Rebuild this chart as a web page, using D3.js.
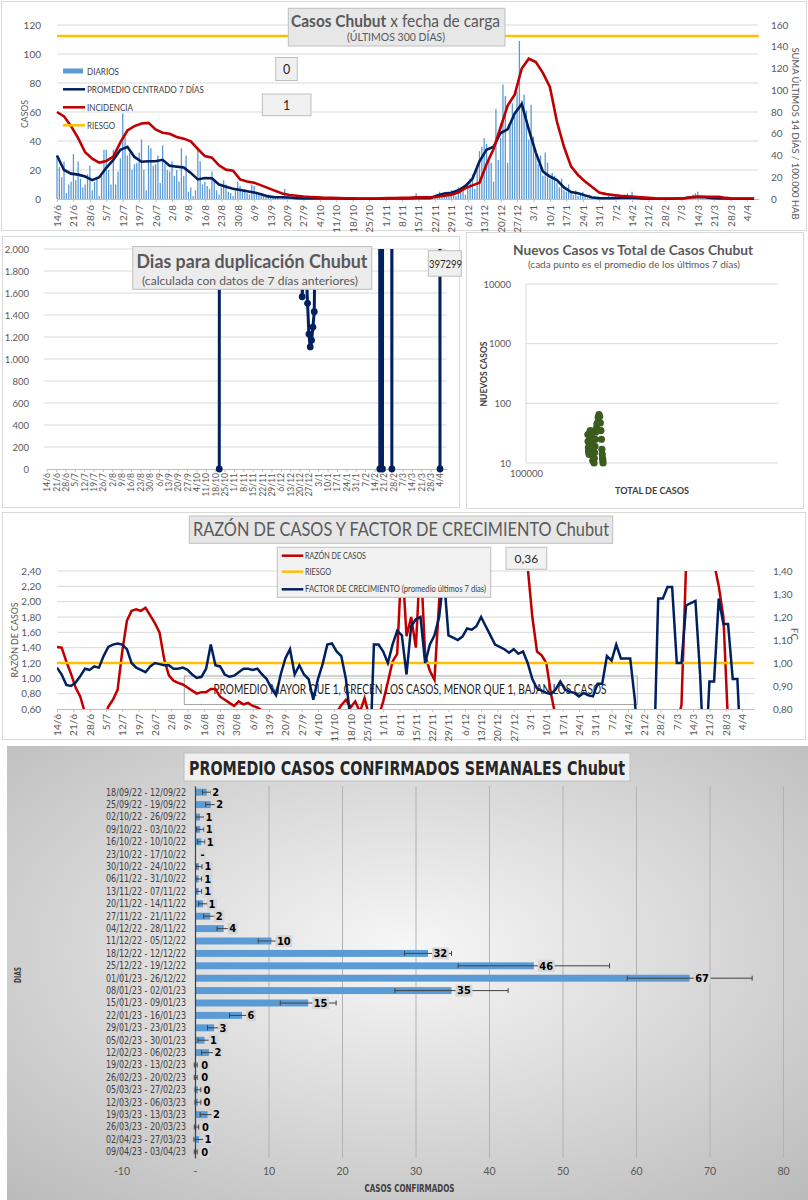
<!DOCTYPE html>
<html>
<head>
<meta charset="utf-8">
<script src="https://cdn.jsdelivr.net/npm/d3@7/dist/d3.min.js"></script>
<style>
  body { margin: 0; background: #fff; }
  svg text { font-family: Lato, "Open Sans", sans-serif; }
</style>
</head>
<body>
<svg id="chart" width="808" height="1200"></svg>
<script>
// ===== data =====
// one label per week, first day 14/6/22, last day 9/4/23 (300 days)
var weekLabels = ["14/6","21/6","28/6","5/7","12/7","19/7","26/7","2/8","9/8","16/8","23/8","30/8",
  "6/9","13/9","20/9","27/9","4/10","11/10","18/10","25/10","1/11","8/11","15/11","22/11","29/11",
  "6/12","13/12","20/12","27/12","3/1","10/1","17/1","24/1","31/1","7/2","14/2","21/2","28/2",
  "7/3","14/3","21/3","28/3","4/4"];

// daily cases (one per day)
var diarios = [
  30,22,15,26,4,10,12, 31,13,26,14,8,10,17, 23,6,12,14,2,16,34, 34,20,10,34,10,19,28,
  59,43,30,32,20,24,25, 32,41,20,6,37,35,23, 24,30,11,37,24,20,19, 26,16,20,12,35,16,30,
  5,8,2,6,34,26,10, 12,9,7,19,12,6,3, 8,13,10,5,4,2,6, 12,9,5,7,4,3,10,
  9,5,3,4,2,2,3, 1,2,1,1,0,1,7, 1,1,0,1,0,0,1, 1,0,0,1,0,0,1,
  0,1,0,0,0,1,0, 0,0,1,0,0,0,0, 0,0,0,1,0,0,0, 0,0,0,0,1,0,0,
  0,1,0,0,0,0,1, 0,0,1,0,0,1,4, 0,1,2,0,1,0,1, 1,3,5,2,4,5,3,
  6,4,2,8,5,8,3, 11,14,17,7,22,33,36, 42,38,29,25,12,62,27, 42,79,71,25,50,66,57,
  74,109,68,72,61,41,65, 43,32,24,30,16,32,25, 14,18,16,11,8,14,6, 5,10,5,3,6,2,3,
  5,2,1,3,1,2,1, 0,1,1,0,2,1,0, 3,1,0,1,0,4,1, 5,0,1,0,0,1,0,
  0,0,0,1,0,0,0, 1,0,0,0,0,1,0, 0,0,1,0,2,3,4, 5,1,1,0,2,0,1,
  0,1,0,0,1,0,0, 0,0,0,1,0,0,0, 0,0,1,0,0,0];

// centred 7-day average, read every 3 days
var promedio7 = [
  30,20,17.5,16.8,15.5,13,15,21.5,27,34,
  36,29,25.7,26,26,27,23,22.3,21.8,18,
  13.5,14.5,14.3,10,8.5,7,6.2,5.3,4.5,3.2,
  1.8,1.2,1.2,1,0.5,0.4,0.4,0.3,0.3,0.3,
  0.3,0.2,0.2,0.2,0.2,0.2,0.2,0.3,0.3,0.3,
  0.4,0.6,0.6,0.5,2.5,3.8,4.3,6,9,14,
  26,34,36,45.5,48,59,65.5,48,32,19,
  15.5,13,8,4.8,4,2.5,1,0.6,0.5,0.6,
  0.8,0.9,0.7,0.4,0.2,0.2,0.2,0.2,0.3,0.5,
  1.2,1.5,1.3,0.6,0.3,0.3,0.2,0.2,0.2,0.2];

// 14-day incidence per 100.000, read every 3 days
var incidencia = [
  80,76,67,56,43,37,33.5,35,39,52,
  63,67,69.5,70,64,61,60,57,55.5,53,
  46,39.5,38,31,27,26,18,16,15,12.5,
  10,7.5,5,3.7,3,2.2,1.8,1.5,1.2,1,
  0.8,0.7,0.6,0.5,0.5,0.5,0.6,0.8,0.8,1,
  1.2,1.5,1.5,1.5,2,3,4,6,10,12.5,
  15,32,46,66,86,96,120,129,126,116,
  103,71,48,30,22,16,11,6,4.5,3.7,
  3,2.5,2,1.5,1,0.6,0.5,0.5,0.5,0.5,
  1.5,2,2,2,2,1,0.5,0.5,0.5,0.5];
var riesgoIncidencia = 150;

// doubling days (day index, value)
var dupDays   = [129, 130, 190, 191, 192, 193, 194, 195, 196, 197, 198, 199, 200, 201,
                 248, 249, 250, 251, 252, 257, 258, 259, 293, 294, 295];
var dupValues = [0, 40000, 25000, 1566, 1850, 2300, 1800, 1506, 1227, 1110, 1170, 1290, 1430, 2600,
                 30000, 0, 20000, 0, 30000, 30000, 0, 30000, 30000, 0, 397299];
var dupLabel = "397299";

// new vs total cases (7 day means)
var scatterTotal = [176000,176400,176800,177200,177600,178000,178400,178900,179400,179900,
  180400,180900,181400,181900,182300,182700,183100,183400,183700,184000,
  186200,186700,187200,187800,188500,189300,190200,191200,192300,193500,
  194800,196000,197200,198300,199200,200000,200700,201300,201800,202200];
var scatterNuevos = [30,23,18,16,15,14,20,27,33,35,29,26,26,27,23,22,21,17,14,11,
  10,12,15,19,25,33,38,45,47,58,65,60,47,35,25,17,14,12,11,10];

// case ratio (left axis), read every 2 days
var razonCasos = [
  1.41,1.40,1.22,1.06,0.88,0.76,0.55,0.40,0.35,0.35,
  0.45,0.63,0.72,0.85,1.35,1.75,1.88,1.90,1.88,1.92,
  1.82,1.72,1.60,1.25,1.04,0.97,0.94,0.92,0.88,0.84,
  0.80,0.82,0.82,0.86,0.86,0.76,0.72,0.68,0.64,0.70,
  0.66,0.68,0.64,0.62,0.58,0.50,0.45,0.40,0.40,0.40,
  0.40,0.40,0.40,0.40,0.40,0.40,0.40,0.40,0.45,0.50,
  0.55,0.65,0.72,0.62,0.70,0.56,0.74,0.50,0.45,0.50,
  0.70,0.95,1.22,1.32,2.60,1.55,1.80,1.40,2.60,1.30,
  1.10,0.98,2.00,3.00,3.00,3.00,3.00,3.00,3.00,3.00,
  3.00,3.00,3.00,3.00,3.00,3.00,3.00,3.00,3.00,3.00,
  3.00,2.45,1.80,1.35,1.30,1.20,0.80,0.50,0.40,0.40,
  0.40,0.40,0.40,0.40,0.40,0.40,0.40,0.40,0.40,0.40,
  0.40,0.40,0.40,0.40,0.40,0.40,0.40,0.40,0.40,0.40,
  0.40,0.40,0.40,0.40,0.65,2.50,3.00,3.00,3.00,3.00,
  3.00,2.50,2.20,1.80,0.40,0.40,0.40,0.40,0.40,0.40];

// growth factor (right axis), read every 2 days
var factorCrec = [
  0.98,0.95,0.905,0.90,0.915,0.943,0.975,0.97,0.985,0.98,
  1.03,1.07,1.08,1.085,1.08,1.06,1.00,0.98,0.97,0.96,
  0.985,1.00,0.995,0.99,0.99,0.975,0.975,0.98,0.97,0.95,
  0.935,0.94,0.975,1.08,0.99,0.985,0.95,0.94,0.945,0.96,
  0.975,0.975,0.97,0.975,0.95,0.93,0.89,0.86,0.95,1.02,
  1.06,0.95,0.99,0.95,0.93,0.84,0.93,0.995,1.08,1.085,
  1.05,1.03,0.93,0.75,0.60,0.50,0.50,0.50,1.08,1.08,
  1.05,1.00,1.08,1.14,1.12,0.95,1.16,1.19,1.20,1.00,
  1.08,1.12,1.20,1.38,1.12,1.11,1.10,1.115,1.15,1.145,
  1.16,1.20,1.16,1.12,1.08,1.07,1.06,1.045,1.06,1.04,
  1.05,1.00,0.93,0.89,0.88,0.87,0.865,0.885,0.92,0.885,
  0.875,0.87,0.855,0.87,0.86,0.855,0.91,0.91,1.03,1.01,
  1.08,1.02,1.02,1.02,0.84,0.50,0.50,0.50,0.50,1.28,
  1.28,1.33,1.33,1.00,1.00,1.25,1.26,1.27,0.95,0.50,
  0.92,0.92,1.28,1.17,1.17,0.93,0.93,0.50,0.50,0.50];
var riesgoFC = 1.0;

// weekly averages
var semanas = ["18/09/22 - 12/09/22","25/09/22 - 19/09/22","02/10/22 - 26/09/22","09/10/22 - 03/10/22",
  "16/10/22 - 10/10/22","23/10/22 - 17/10/22","30/10/22 - 24/10/22","06/11/22 - 31/10/22",
  "13/11/22 - 07/11/22","20/11/22 - 14/11/22","27/11/22 - 21/11/22","04/12/22 - 28/11/22",
  "11/12/22 - 05/12/22","18/12/22 - 12/12/22","25/12/22 - 19/12/22","01/01/23 - 26/12/22",
  "08/01/23 - 02/01/23","15/01/23 - 09/01/23","22/01/23 - 16/01/23","29/01/23 - 23/01/23",
  "05/02/23 - 30/01/23","12/02/23 - 06/02/23","19/02/23 - 13/02/23","26/02/23 - 20/02/23",
  "05/03/23 - 27/02/23","12/03/23 - 06/03/23","19/03/23 - 13/03/23","26/03/23 - 20/03/23",
  "02/04/23 - 27/03/23","09/04/23 - 03/04/23"];
var promedioSemanal = [1.6,2.15,0.68,0.72,0.86,0,0.55,0.5,0.5,1.1,2.08,3.9,10.4,31.7,46.1,67.3,
  34.9,15.4,6.4,2.6,1.3,1.9,0.1,0.1,0.4,0.4,1.7,0.2,0.55,0.1];
var desvioSemanal = [0.6,0.7,0.6,0.5,0.5,0,0.4,0.4,0.4,0.6,0.9,0.9,1.8,3.2,10.3,8.5,
  7.7,3.8,1.7,0.9,0.9,1.0,0.2,0.2,0.4,0.4,1.0,0.3,0.7,0.2];

// ===== drawing =====
var svg = d3.select("#chart");
var NARROW = "'Liberation Sans Narrow', 'DejaVu Sans Condensed', Lato, sans-serif";
var NAVY = "#002060", RED = "#c00000", ORANGE = "#ffc000", BLUE = "#5b9bd5";
var es = d3.formatLocale({decimal: ",", thousands: ".", grouping: [3], currency: ["$", ""]});

function frame(x, y, w, h) {
  svg.append("rect").attr("x", x).attr("y", y).attr("width", w).attr("height", h)
    .attr("fill", "none").attr("stroke", "#d9d9d9");
}

function box(x, y, w, h, fill, stroke) {
  return svg.append("rect").attr("x", x).attr("y", y).attr("width", w).attr("height", h)
    .attr("fill", fill).attr("stroke", stroke || "#bfbfbf");
}

function label(x, y, txt, size, opts) {
  opts = opts || {};
  var t = svg.append("text").attr("x", x).attr("y", y)
    .attr("font-size", size)
    .attr("fill", opts.fill || "#595959")
    .attr("text-anchor", opts.anchor || "start")
    .attr("font-weight", opts.bold ? "bold" : "normal")
    .text(txt);
  if (opts.len) t.attr("textLength", opts.len).attr("lengthAdjust", "spacingAndGlyphs");
  if (opts.rot) t.attr("transform", "rotate(" + opts.rot + "," + x + "," + y + ")");
  if (opts.family) t.style("font-family", opts.family);
  return t;
}

function gridY(scale, values, x0, x1) {
  svg.append("g").selectAll("line").data(values).enter().append("line")
    .attr("x1", x0).attr("x2", x1)
    .attr("y1", function(d) { return scale(d); })
    .attr("y2", function(d) { return scale(d); })
    .attr("stroke", "#d9d9d9");
}

function dateAxis(scale, y, size, off) {
  var g = svg.append("g").attr("transform", "translate(0," + y + ")")
    .call(d3.axisBottom(scale)
      .tickValues(weekLabels.map(function(d, i) { return i * 7; }))
      .tickFormat(function(d, i) { return weekLabels[i]; })
      .tickSize(3).tickSizeOuter(0));
  g.select(".domain").attr("stroke", "#bfbfbf");
  g.selectAll(".tick line").attr("stroke", "#bfbfbf");
  g.selectAll(".tick text")
    .attr("transform", "rotate(-90)")
    .attr("text-anchor", "end")
    .attr("x", -off).attr("y", 0).attr("dy", "0.35em")
    .attr("font-size", size).attr("fill", "#595959");
}

function valueAxis(g, size) {
  g.select(".domain").remove();
  g.selectAll(".tick line").remove();
  g.selectAll("text").attr("font-size", size).attr("fill", "#595959");
}

// panel frames
frame(1.5, 1.5, 805, 229);
frame(2.5, 236.5, 457, 271);
frame(466.5, 232.5, 337, 276);
frame(2.5, 512.5, 803, 227);

// ---------- panel 1: cases by load date ----------
var x1 = d3.scaleLinear().domain([0, 299]).range([57, 758.8]);
var y1 = d3.scaleLinear().domain([0, 120]).range([199, 25]);
var y1r = d3.scaleLinear().domain([0, 160]).range([199, 25]);

gridY(y1, d3.range(20, 121, 20), 57, 758);

valueAxis(svg.append("g").attr("transform", "translate(57,0)")
  .call(d3.axisLeft(y1).tickValues(d3.range(0, 121, 20)).tickPadding(10)), 10);
valueAxis(svg.append("g").attr("transform", "translate(758,0)")
  .call(d3.axisRight(y1r).tickValues(d3.range(0, 161, 20)).tickPadding(7)), 10);
dateAxis(x1, 199, 10, 6);

svg.append("g").selectAll("rect").data(diarios).enter().append("rect")
  .attr("x", function(d, i) { return x1(i) - 0.65; })
  .attr("y", function(d) { return y1(d); })
  .attr("width", 1.3)
  .attr("height", function(d) { return 199 - y1(d); })
  .attr("fill", BLUE);

var line3 = function(scale) {
  return d3.line().x(function(d, i) { return x1(i * 3); }).y(function(d) { return scale(d); });
};
svg.append("path").attr("d", line3(y1)(promedio7))
  .attr("fill", "none").attr("stroke", NAVY).attr("stroke-width", 2.6);
svg.append("path").attr("d", line3(y1r)(incidencia))
  .attr("fill", "none").attr("stroke", RED).attr("stroke-width", 2.6);
svg.append("line").attr("x1", x1(0)).attr("x2", x1(299))
  .attr("y1", y1r(riesgoIncidencia)).attr("y2", y1r(riesgoIncidencia))
  .attr("stroke", ORANGE).attr("stroke-width", 2.5);

// legend
svg.append("rect").attr("x", 63).attr("y", 68.5).attr("width", 20).attr("height", 5).attr("fill", BLUE);
label(87, 74.5, "DIARIOS", 9.5, {fill: "#404040", len: 32});
[[89.3, NAVY, "PROMEDIO CENTRADO 7 DÍAS", 117], [107.3, RED, "INCIDENCIA", 46], [125.3, ORANGE, "RIESGO", 28]]
  .forEach(function(e) {
    svg.append("line").attr("x1", 63).attr("x2", 85).attr("y1", e[0]).attr("y2", e[0])
      .attr("stroke", e[1]).attr("stroke-width", 2.5);
    label(87, e[0] + 3.3, e[2], 9.5, {fill: "#404040", len: e[3]});
  });

box(275.7, 57.5, 21.6, 23, "#f0f0f0");
label(286.5, 74, "0", 12.5, {anchor: "middle", fill: "#262626"});
box(262.3, 94, 48.7, 21.7, "#f0f0f0");
label(286.7, 110, "1", 12.5, {anchor: "middle", fill: "#262626"});

box(288.3, 8.3, 216.7, 37.7, "#e7e7e7");
var t1 = label(291, 26.5, "", 17, {fill: "#595959", len: 209});
t1.append("tspan").attr("font-weight", "bold").text("Casos Chubut");
t1.append("tspan").text(" x fecha de carga");
label(396, 41, "(ÚLTIMOS 300 DÍAS)", 11, {anchor: "middle", len: 98});

label(28, 114, "CASOS", 9.5, {anchor: "middle", rot: -90, len: 28});
label(792, 133.5, "SUMA  ÚLTIMOS 14 DÍAS / 100.000 HAB", 10, {anchor: "middle", rot: 90, len: 172});

// ---------- panel 2 left: doubling days ----------
var x2 = d3.scaleLinear().domain([0, 299]).range([46.7, 446.7]);
var y2 = d3.scaleLinear().domain([0, 2000]).range([469, 249]);

gridY(y2, d3.range(200, 2001, 200), 44, 447);
valueAxis(svg.append("g").attr("transform", "translate(44,0)")
  .call(d3.axisLeft(y2).tickValues(d3.range(0, 2001, 200)).tickFormat(es.format(",")).tickPadding(9)), 9.5);
dateAxis(x2, 469, 8.5, 4);

svg.append("clipPath").attr("id", "clipDup").append("rect")
  .attr("x", 40).attr("y", 249).attr("width", 412).attr("height", 230);
var dupPts = dupDays.map(function(d, i) { return [x2(d), y2(dupValues[i])]; });
var gDup = svg.append("g").attr("clip-path", "url(#clipDup)");
gDup.append("path").attr("d", d3.line()(dupPts))
  .attr("fill", "none").attr("stroke", NAVY).attr("stroke-width", 3);
gDup.selectAll("circle").data(dupPts).enter().append("circle")
  .attr("cx", function(d) { return d[0]; }).attr("cy", function(d) { return d[1]; })
  .attr("r", 3.4).attr("fill", NAVY);

box(132.7, 246.5, 239, 42.8, "#ececec");
label(252, 267.5, "Dias para duplicación Chubut", 18, {anchor: "middle", bold: true, len: 231});
label(250, 284.5, "(calculada con datos de 7 días anteriores)", 11.5, {anchor: "middle", len: 216});
box(428.3, 250.7, 33, 25.5, "#f0f0f0");
label(429, 268, dupLabel, 11, {fill: "#262626", len: 33});

// ---------- panel 2 right: new vs total ----------
var xs = d3.scaleLog().domain([1e5, 1e6]).range([526, 778]);
var ys = d3.scaleLog().domain([10, 10000]).range([463, 284]);

gridY(ys, [10, 100, 1000, 10000], 526, 778);
svg.append("line").attr("x1", 526).attr("x2", 526).attr("y1", 284).attr("y2", 463).attr("stroke", "#d9d9d9");
valueAxis(svg.append("g").attr("transform", "translate(526,0)")
  .call(d3.axisLeft(ys).tickValues([10, 100, 1000, 10000]).tickFormat(d3.format("d")).tickPadding(9)), 9.5);
svg.append("g").attr("transform", "translate(0,463)")
  .call(d3.axisBottom(xs).tickValues([1e5]).tickFormat(d3.format("d")).tickSize(0).tickPadding(7))
  .call(function(g) { valueAxis(g, 9.5); });

svg.append("g").selectAll("circle").data(scatterTotal).enter().append("circle")
  .attr("cx", function(d) { return xs(d); })
  .attr("cy", function(d, i) { return ys(scatterNuevos[i]); })
  .attr("r", 3.6).attr("fill", "#3b5b1f");

label(633, 255, "Nuevos Casos vs Total de Casos Chubut", 13.5, {anchor: "middle", bold: true, len: 240});
label(634, 267.5, "(cada punto es el promedio de los últimos 7 días)", 9.5, {anchor: "middle", len: 212});
label(487, 374, "NUEVOS CASOS", 9.5, {anchor: "middle", bold: true, rot: -90, len: 65, fill: "#404040"});
label(652, 494, "TOTAL DE CASOS", 9.5, {anchor: "middle", bold: true, len: 74, fill: "#404040"});

// ---------- panel 3: case ratio and growth factor ----------
var x3 = d3.scaleLinear().domain([0, 299]).range([57, 753.7]);
var yL = d3.scaleLinear().domain([0.6, 2.4]).range([709, 571]);
var yR = d3.scaleLinear().domain([0.8, 1.4]).range([709, 571]);

gridY(yL, d3.range(0.8, 2.41, 0.2), 57, 755);
valueAxis(svg.append("g").attr("transform", "translate(57,0)")
  .call(d3.axisLeft(yL).tickValues(d3.range(0.6, 2.41, 0.2)).tickFormat(es.format(".2f")).tickPadding(10)), 10);
valueAxis(svg.append("g").attr("transform", "translate(755,0)")
  .call(d3.axisRight(yR).tickValues(d3.range(0.8, 1.41, 0.1)).tickFormat(es.format(".2f")).tickPadding(12)), 10);
dateAxis(x3, 709, 10, 5);

// note box under the lines
svg.append("rect").attr("x", 184.3).attr("y", 676).attr("width", 453).attr("height", 28.5)
  .attr("fill", "none").attr("stroke", "#a6a6a6");
label(410, 694, "PROMEDIO MAYOR QUE 1, CRECEN LOS CASOS, MENOR QUE 1, BAJAN LOS CASOS", 12.5,
  {anchor: "middle", fill: "#1a1a1a", len: 393});

svg.append("clipPath").attr("id", "clipRz").append("rect")
  .attr("x", 57).attr("y", 571).attr("width", 698).attr("height", 138);
var gRz = svg.append("g").attr("clip-path", "url(#clipRz)");
var line2 = function(scale) {
  return d3.line().x(function(d, i) { return x3(i * 2); }).y(function(d) { return scale(d); });
};
gRz.append("path").attr("d", line2(yL)(razonCasos))
  .attr("fill", "none").attr("stroke", RED).attr("stroke-width", 2.5);
gRz.append("line").attr("x1", x3(0)).attr("x2", x3(299))
  .attr("y1", yR(riesgoFC)).attr("y2", yR(riesgoFC))
  .attr("stroke", ORANGE).attr("stroke-width", 2.5);
gRz.append("path").attr("d", line2(yR)(factorCrec))
  .attr("fill", "none").attr("stroke", NAVY).attr("stroke-width", 2.5);

box(189.3, 516, 423.4, 27.3, "#e6e6e6");
label(401, 536, "RAZÓN DE CASOS Y FACTOR DE CRECIMIENTO Chubut", 20, {anchor: "middle", len: 416});

box(277.3, 547.3, 213.4, 50, "#f2f2f2");
[[555.7, RED, "RAZÓN DE CASOS", 61], [571.7, ORANGE, "RIESGO", 26],
 [589.3, NAVY, "FACTOR DE CRECIMIENTO (promedio últimos 7 días)", 181]].forEach(function(e) {
  svg.append("line").attr("x1", 281.7).attr("x2", 303.3).attr("y1", e[0]).attr("y2", e[0])
    .attr("stroke", e[1]).attr("stroke-width", 2.5);
  label(305, e[0] + 3, e[2], 8.5, {fill: "#404040", len: e[3]});
});
box(506, 547.3, 40.7, 22, "#f2f2f2");
label(526.3, 563, "0,36", 12, {anchor: "middle", fill: "#262626"});

label(18, 640, "RAZÓN  DE CASOS", 10, {anchor: "middle", rot: -90, len: 75});
label(791, 634, "FC", 10, {anchor: "middle", rot: 90});

// ---------- panel 4: weekly averages ----------
var grad = svg.append("defs").append("radialGradient").attr("id", "bg4")
  .attr("cx", "50%").attr("cy", "45%").attr("r", "75%");
grad.append("stop").attr("offset", "0%").attr("stop-color", "#f7f7f7");
grad.append("stop").attr("offset", "100%").attr("stop-color", "#bababa");
svg.append("rect").attr("x", 7).attr("y", 746).attr("width", 801).attr("height", 454)
  .attr("fill", "url(#bg4)");

var xb = d3.scaleLinear().domain([-10, 80]).range([121.5, 783]);
var yb = d3.scaleBand().domain(semanas).range([786, 1158]).paddingInner(0.44).paddingOuter(0.22);

svg.append("g").attr("transform", "translate(0,1158)")
  .call(d3.axisBottom(xb).tickValues(d3.range(-10, 81, 10)).tickFormat("").tickSize(-372))
  .call(function(g) {
    g.select(".domain").remove();
    g.selectAll(".tick line").attr("stroke", "#b2b2b2");
  });

var gx4 = svg.append("g").attr("transform", "translate(0,1158)")
  .call(d3.axisBottom(xb).tickValues(d3.range(-10, 81, 10))
    .tickFormat(function(d) { return d === 0 ? "-" : d; }).tickSize(0).tickPadding(10));
valueAxis(gx4, 10.5);

svg.append("g").selectAll("rect").data(promedioSemanal).enter().append("rect")
  .attr("x", xb(0))
  .attr("y", function(d, i) { return yb(semanas[i]); })
  .attr("width", function(d) { return xb(d) - xb(0); })
  .attr("height", yb.bandwidth())
  .attr("fill", BLUE);

var gy4 = svg.append("g").attr("transform", "translate(" + xb(0) + ",0)")
  .call(d3.axisLeft(yb).tickSize(0).tickPadding(9));
gy4.select(".domain").attr("stroke", "#404040").attr("stroke-width", 1.2);
gy4.selectAll("text").attr("font-size", 10.5).attr("fill", "#404040")
  .attr("textLength", 80).attr("lengthAdjust", "spacingAndGlyphs")
  .style("font-family", NARROW);

// error bars
var gErr = svg.append("g").attr("stroke", "#404040").attr("stroke-width", 1);
promedioSemanal.forEach(function(v, i) {
  var e = desvioSemanal[i];
  if (e === 0) return;
  var cy = yb(semanas[i]) + yb.bandwidth() / 2;
  gErr.append("line").attr("x1", xb(v - e)).attr("x2", xb(v + e)).attr("y1", cy).attr("y2", cy);
  [v - e, v + e].forEach(function(c) {
    gErr.append("line").attr("x1", xb(c)).attr("x2", xb(c)).attr("y1", cy - 2.5).attr("y2", cy + 2.5);
  });
});

// data labels with grey backing
var gLab = svg.append("g");
promedioSemanal.forEach(function(v, i) {
  var cy = yb(semanas[i]) + yb.bandwidth() / 2;
  var g = gLab.append("g");
  var t = g.append("text").attr("x", xb(v) + 5.5).attr("y", cy + 3.8)
    .attr("font-size", 11).attr("font-weight", "bold").attr("fill", "#000")
    .style("font-family", NARROW)
    .text(v === 0 ? "-" : Math.round(v));
  var bb = t.node().getBBox();
  g.insert("rect", "text").attr("x", bb.x - 1.5).attr("y", cy - 6)
    .attr("width", bb.width + 3).attr("height", 12).attr("fill", "#d6d6d6");
});

box(184, 753, 446, 28, "#f0f0f0");
label(407, 775, "PROMEDIO CASOS CONFIRMADOS SEMANALES Chubut", 19,
  {anchor: "middle", bold: true, fill: "#262626", len: 436, family: NARROW});
label(409.5, 1191.5, "CASOS CONFIRMADOS", 10, {anchor: "middle", bold: true, fill: "#404040", len: 90, family: NARROW});
label(21, 975, "DIAS", 9, {anchor: "middle", bold: true, fill: "#404040", rot: -90, len: 16, family: NARROW});
</script>
</body>
</html>
